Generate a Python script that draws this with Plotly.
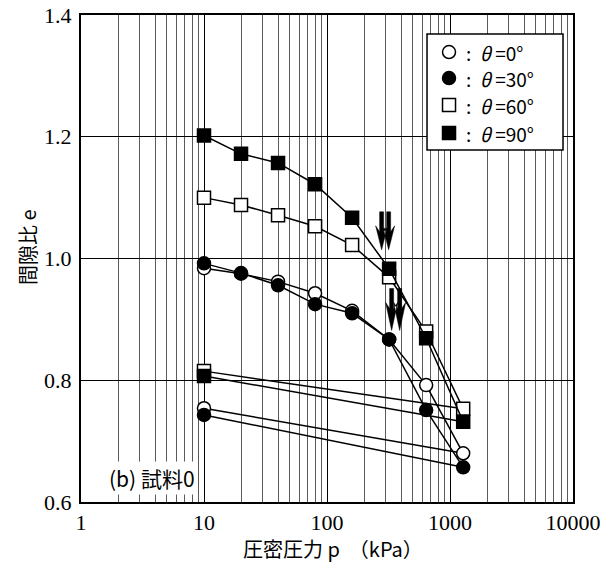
import plotly.graph_objects as go

# Consolidation pressure steps (loading 10 -> 1280 kPa, then unloading back to 10 kPa)
pressure = [10, 20, 40, 80, 160, 320, 640, 1280, 10]

# Void ratio e for each sampling angle theta
e_theta0 = [0.984, 0.975, 0.962, 0.943, 0.914, 0.867, 0.792, 0.680, 0.754]
e_theta30 = [0.992, 0.976, 0.956, 0.925, 0.910, 0.867, 0.751, 0.657, 0.743]
e_theta60 = [1.100, 1.088, 1.071, 1.053, 1.022, 0.969, 0.880, 0.753, 0.815]
e_theta90 = [1.202, 1.172, 1.157, 1.122, 1.067, 0.983, 0.869, 0.732, 0.807]

series_labels = [":\u00a0\u00a0<i>θ</i>\u00a0=0°", ":\u00a0\u00a0<i>θ</i>\u00a0=30°",
                 ":\u00a0\u00a0<i>θ</i>\u00a0=60°", ":\u00a0\u00a0<i>θ</i>\u00a0=90°"]
x_tick_vals = [1, 10, 100, 1000, 10000]
x_tick_text = ["1", "10", "100", "1000", "10000"]
y_tick_vals = [0.6, 0.8, 1.0, 1.2, 1.4]

# yield-point arrows are attached to the 320 kPa step
arrow_index = 5

GOTHIC = "Noto Sans CJK JP"
TICK_FONT = dict(family="Liberation Serif, DejaVu Serif, serif", size=22, color="black")

styles = [
    dict(symbol="circle", color="white"),
    dict(symbol="circle", color="black"),
    dict(symbol="square", color="white"),
    dict(symbol="square", color="black"),
]
series = [e_theta0, e_theta30, e_theta60, e_theta90]

fig = go.Figure()
for ys, st in zip(series, styles):
    fig.add_trace(go.Scatter(
        x=pressure, y=ys, mode="lines+markers", showlegend=False,
        line=dict(color="black", width=1.5),
        marker=dict(symbol=st["symbol"], size=13, color=st["color"],
                    line=dict(color="black", width=1.5)),
    ))


def double_arrow(centers, tip, head_base, top):
    """Path for two side-by-side downward arrows, pixel units (y up)."""
    parts = []
    for cx in centers:
        parts.append(
            f"M {cx-2},{top} L {cx+2},{top} L {cx+2},{head_base} "
            f"L {cx+6},{head_base+6} L {cx},{tip} L {cx-6},{head_base+6} "
            f"L {cx-2},{head_base} Z"
        )
    return " ".join(parts)


arrow_specs = [
    (e_theta90[arrow_index], [-7.5, -0.5], 19, 37, 57),
    (e_theta30[arrow_index], [2.5, 10.5], 9, 31, 51),
]
for y_anchor, centers, tip, hb, top in arrow_specs:
    fig.add_shape(
        type="path", xref="x", yref="y",
        xsizemode="pixel", ysizemode="pixel",
        xanchor=pressure[arrow_index], yanchor=y_anchor,
        path=double_arrow(centers, tip, hb, top),
        fillcolor="black", line=dict(color="black", width=0.5),
    )

# --- legend box drawn in paper coordinates ---
LEG_X0, LEG_X1 = 0.7033, 0.9797
LEG_Y0, LEG_Y1 = 0.7228, 0.961
LEG_ROWS = [0.924, 0.8705, 0.815, 0.7575]
LEG_SYMBOL_X = 0.7480
LEG_TEXT_X = 0.7790

fig.add_shape(type="rect", xref="paper", yref="paper",
              x0=LEG_X0, x1=LEG_X1, y0=LEG_Y0, y1=LEG_Y1,
              fillcolor="white", line=dict(color="black", width=1.5), layer="above")
for row_y, st, label in zip(LEG_ROWS, styles, series_labels):
    half = 6.5
    fig.add_shape(
        type="circle" if st["symbol"] == "circle" else "rect",
        xref="paper", yref="paper", xsizemode="pixel", ysizemode="pixel",
        xanchor=LEG_SYMBOL_X, yanchor=row_y,
        x0=-half, x1=half, y0=-half, y1=half,
        fillcolor=st["color"], line=dict(color="black", width=1.5), layer="above",
    )
    fig.add_annotation(
        x=LEG_TEXT_X, y=row_y, xref="paper", yref="paper",
        xanchor="left", yanchor="middle", text=label, showarrow=False,
        font=dict(family=GOTHIC, size=19, color="black"),
    )

fig.add_annotation(
    x=0.145, y=0.05, xref="paper", yref="paper",
    xanchor="center", yanchor="middle",
    text="(b) 試料0", showarrow=False, bgcolor="white",
    font=dict(family=GOTHIC, size=21, color="black"),
)

# axis titles
fig.add_annotation(
    x=0.325, y=-0.0945, xref="paper", yref="paper",
    xanchor="left", yanchor="middle", showarrow=False,
    text="圧密圧力\u00a0p\u00a0\u00a0（kPa）",
    font=dict(family=GOTHIC, size=20, color="black"),
)
fig.add_annotation(
    x=-0.1098, y=0.5236, xref="paper", yref="paper",
    xanchor="center", yanchor="middle", showarrow=False, textangle=-90,
    text="間隙比\u00a0e",
    font=dict(family=GOTHIC, size=20, color="black"),
)

axis_common = dict(
    showline=True, linecolor="black", linewidth=2, mirror=True,
    ticks="", zeroline=False, showgrid=True, gridcolor="black", gridwidth=1,
    tickfont=TICK_FONT, automargin=False,
)

fig.update_xaxes(
    type="log", range=[0, 4], tickvals=x_tick_vals, ticktext=x_tick_text,
    minor=dict(dtick="D1", showgrid=True, gridcolor="#5a5a5a", gridwidth=1, ticks=""),
    **axis_common,
)
fig.update_yaxes(
    range=[0.6, 1.4], tickvals=y_tick_vals, tickformat=".1f",
    ticklabelstandoff=3,
    **axis_common,
)

fig.update_layout(
    width=614, height=564,
    margin=dict(l=81, r=41, t=15, b=62),
    plot_bgcolor="white", paper_bgcolor="white",
    showlegend=False,
)

fig.write_html("out.html")
